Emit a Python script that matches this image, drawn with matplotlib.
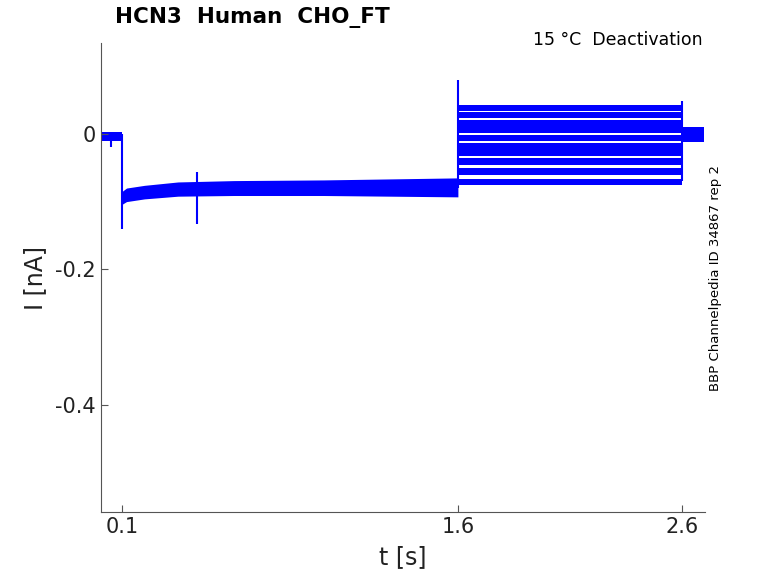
import matplotlib.pyplot as plt

# sweep timing (s) and current bands (nA, upper / lower edge of the noisy trace)
pre_t = [0.005, 0.1]
pre_hi = [0.003, 0.003]
pre_lo = [-0.010, -0.010]
hold_t = [0.1, 0.12, 0.2, 0.35, 0.6, 1.0, 1.6]
hold_hi = [-0.085, -0.080, -0.076, -0.071, -0.069, -0.068, -0.065]
hold_lo = [-0.104, -0.100, -0.096, -0.092, -0.091, -0.091, -0.093]
test_t = [1.6, 2.6]
test_levels = [0.038, 0.028, 0.016, 0.006, -0.006, -0.018, -0.028, -0.041, -0.056, -0.071]
test_half = 0.0049
tail_t = [2.6, 2.7]
tail_hi = [0.010, 0.010]
tail_lo = [-0.012, -0.012]

# capacitive / artefact spikes
spike_t = [0.05, 0.1, 0.435, 1.6, 2.6]
spike_lo = [-0.02, -0.14, -0.133, -0.08, -0.07]
spike_hi = [0.0, 0.0, -0.057, 0.08, 0.048]

blue = '#0000ff'
fig = plt.figure(figsize=(7.78, 5.83), dpi=100)
ax = fig.add_axes([0.1298, 0.1218, 0.7762, 0.8044])

ax.fill_between(pre_t, pre_lo, pre_hi, color=blue, lw=0)
ax.fill_between(hold_t, hold_lo, hold_hi, color=blue, lw=0)
for lev in test_levels:
    ax.fill_between(test_t, [lev - test_half] * 2, [lev + test_half] * 2, color=blue, lw=0)
ax.fill_between(tail_t, tail_lo, tail_hi, color=blue, lw=0)
ax.vlines(spike_t, spike_lo, spike_hi, color=blue, lw=1.5)

ax.set_xlim(0.006, 2.703)
ax.set_ylim(-0.558, 0.134)
ax.set_xticks([0.1, 1.6, 2.6])
ax.set_xticklabels(['0.1', '1.6', '2.6'])
ax.set_yticks([-0.4, -0.2, 0])
ax.set_yticklabels(['-0.4', '-0.2', '0'])

for s in ['top', 'right']:
    ax.spines[s].set_visible(False)
for s in ['left', 'bottom']:
    ax.spines[s].set_color('#555555')
ax.tick_params(direction='in', length=5, colors='#555555', labelcolor='#222222', labelsize=15)
ax.set_xlabel('t [s]', fontsize=17, color='#222222', labelpad=6)
ax.set_ylabel('I [nA]', fontsize=17, color='#222222', labelpad=6)

fig.text(115 / 778, 1 - 18 / 583, 'HCN3  Human  CHO_FT', fontsize=15.5, fontweight='bold',
         ha='left', va='center')
fig.text(703 / 778, 1 - 40 / 583, '15 °C  Deactivation', fontsize=12.5, ha='right', va='center')
fig.text(716 / 778, 1 - 278 / 583, 'BBP Channelpedia ID 34867 rep 2', fontsize=9.5,
         rotation=90, ha='center', va='center')

fig.savefig('out.png', dpi=100)
